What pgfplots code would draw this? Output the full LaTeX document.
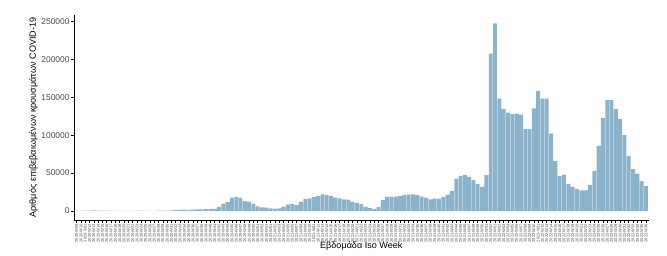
\documentclass[border=0pt]{standalone}
\usepackage{pgfplots}
\pgfplotsset{compat=1.18}
\usepackage{fontspec}
\setmainfont{Liberation Sans}
\usetikzlibrary{calc}
\definecolor{barc}{HTML}{8BB3CC}
\definecolor{tickgray}{HTML}{4D4D4D}
\begin{document}
\begin{tikzpicture}
\begin{axis}[
  name=ax, scale only axis, width=431pt, height=153.75pt,
  xmin=-0.6, xmax=132.6, ymin=-12000, ymax=259000,
  axis lines*=left,
  axis line style={line width=0.6pt, black},
  ybar, bar width=0.9,
  xtick={0,...,132},
  xticklabels={2020-W09,2020-W10,2020-W11,2020-W12,2020-W13,2020-W14,2020-W15,2020-W16,2020-W17,2020-W18,2020-W19,2020-W20,2020-W21,2020-W22,2020-W23,2020-W24,2020-W25,2020-W26,2020-W27,2020-W28,2020-W29,2020-W30,2020-W31,2020-W32,2020-W33,2020-W34,2020-W35,2020-W36,2020-W37,2020-W38,2020-W39,2020-W40,2020-W41,2020-W42,2020-W43,2020-W44,2020-W45,2020-W46,2020-W47,2020-W48,2020-W49,2020-W50,2020-W51,2020-W52,2020-W53,2021-W01,2021-W02,2021-W03,2021-W04,2021-W05,2021-W06,2021-W07,2021-W08,2021-W09,2021-W10,2021-W11,2021-W12,2021-W13,2021-W14,2021-W15,2021-W16,2021-W17,2021-W18,2021-W19,2021-W20,2021-W21,2021-W22,2021-W23,2021-W24,2021-W25,2021-W26,2021-W27,2021-W28,2021-W29,2021-W30,2021-W31,2021-W32,2021-W33,2021-W34,2021-W35,2021-W36,2021-W37,2021-W38,2021-W39,2021-W40,2021-W41,2021-W42,2021-W43,2021-W44,2021-W45,2021-W46,2021-W47,2021-W48,2021-W49,2021-W50,2021-W51,2021-W52,2022-W01,2022-W02,2022-W03,2022-W04,2022-W05,2022-W06,2022-W07,2022-W08,2022-W09,2022-W10,2022-W11,2022-W12,2022-W13,2022-W14,2022-W15,2022-W16,2022-W17,2022-W18,2022-W19,2022-W20,2022-W21,2022-W22,2022-W23,2022-W24,2022-W25,2022-W26,2022-W27,2022-W28,2022-W29,2022-W30,2022-W31,2022-W32,2022-W33,2022-W34,2022-W35,2022-W36},
  xticklabel style={rotate=90, anchor=east, inner sep=0.6pt, font=\fontsize{3}{3.5}\selectfont, text=tickgray},
  ytick={0,50000,100000,150000,200000,250000},
  yticklabels={0,50000,100000,150000,200000,250000},
  scaled y ticks=false,
  yticklabel style={font=\fontsize{6.3}{7}\selectfont, text=tickgray, inner sep=1pt},
  tick align=outside,
  major tick length=2.2pt,
  tick style={line width=0.5pt, color=black},
  clip=false,
]
\addplot[fill=barc, draw=none] coordinates {
(0,10) (1,80) (2,250) (3,500) (4,650) (5,500) (6,420) (7,300) (8,200) (9,110)
(10,100) (11,70) (12,-400) (13,100) (14,150) (15,220) (16,160) (17,140) (18,160) (19,220)
(20,230) (21,400) (22,700) (23,1200) (24,1500) (25,1600) (26,1500) (27,1600) (28,1900) (29,2100)
(30,2200) (31,2300) (32,2600) (33,5300) (34,9500) (35,11500) (36,17600) (37,18500) (38,17500) (39,13000)
(40,12300) (41,9300) (42,6000) (43,4700) (44,4400) (45,3300) (46,3100) (47,3200) (48,5500) (49,8500)
(50,8800) (51,7500) (52,12000) (53,15500) (54,16500) (55,18500) (56,19500) (57,21800) (58,20800) (59,20000)
(60,17600) (61,16500) (62,15400) (63,15000) (64,12000) (65,10500) (66,8800) (67,5700) (68,4000) (69,2600)
(70,4900) (71,14500) (72,19000) (73,19000) (74,19000) (75,19500) (76,21200) (77,21500) (78,22000) (79,21000)
(80,19000) (81,17600) (82,15400) (83,16300) (84,16300) (85,18100) (86,21600) (87,26000) (88,42800) (89,46300)
(90,47600) (91,45000) (92,40600) (93,35300) (94,31800) (95,47200) (96,208000) (97,248000) (98,148600) (99,134500)
(100,130000) (101,127900) (102,128700) (103,127400) (104,108000) (105,108000) (106,135400) (107,158300) (108,148600) (109,148600)
(110,102300) (111,65700) (112,46300) (113,48000) (114,35300) (115,31800) (116,28700) (117,27300) (118,27300) (119,34000)
(120,52500) (121,86000) (122,123000) (123,146400) (124,146400) (125,134500) (126,121300) (127,100100) (128,72300) (129,55100)
(130,49400) (131,39200) (132,32600)
};
\end{axis}
\node[rotate=90, font=\fontsize{6.8}{8}\selectfont] at ($(ax.south west)!0.5!(ax.north west)+(-30.4pt,0)$) {Αριθμός επιβεβαιωμένων κρουσμάτων COVID-19};
\node[font=\fontsize{6.8}{8}\selectfont] at ($(ax.south west)!0.5!(ax.south east)+(0,-19.5pt)$) {Εβδομάδα Iso Week};
\pgfresetboundingbox
\path[use as bounding box] ($(ax.south west)+(-55.5pt,-27pt)$) rectangle ($(ax.north east)+(13.8pt,11.25pt)$);
\end{tikzpicture}
\end{document}
